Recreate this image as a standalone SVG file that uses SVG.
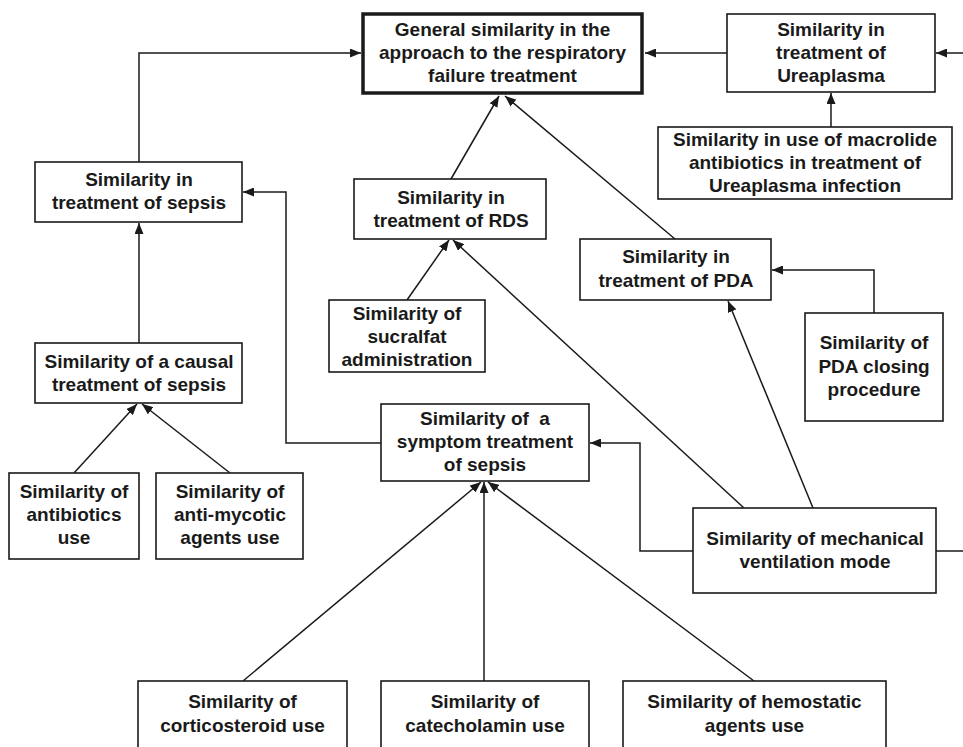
<svg xmlns="http://www.w3.org/2000/svg" width="963" height="747" viewBox="0 0 963 747">
<style>
.box{fill:#fff;stroke:#1a1a1a;stroke-width:1.6}
.main{fill:#fff;stroke:#1a1a1a;stroke-width:3.5}
text{font-family:"Liberation Sans",Arial,sans-serif;font-weight:bold;font-size:19px;fill:#1a1a1a;text-anchor:middle}
.c{fill:none;stroke:#1a1a1a;stroke-width:1.5}
.a{marker-end:url(#ah)}
</style>
<defs>
<marker id="ah" markerUnits="userSpaceOnUse" markerWidth="11" markerHeight="9" refX="11" refY="4.5" orient="auto">
<path d="M0,0 L11,4.5 L0,9 z" fill="#1a1a1a"/>
</marker>
</defs>
<rect width="963" height="747" fill="#fff"/>
<g id="connectors">
<polyline class="c a" points="139,162 139,53 361,53"/>
<polyline class="c a" points="727,53 645,53"/>
<polyline class="c a" points="963,53 936,53"/>
<polyline class="c a" points="831,127 831,93"/>
<polyline class="c a" points="451,179 499,96"/>
<polyline class="c a" points="675,239 505,96"/>
<polyline class="c a" points="139,343 139,223"/>
<polyline class="c a" points="381,443 286,443 286,192 243,192"/>
<polyline class="c a" points="407,300 449,240"/>
<polyline class="c a" points="744,508 453,240"/>
<polyline class="c a" points="874,313 874,270 772,270"/>
<polyline class="c a" points="813,508 728,301"/>
<polyline class="c a" points="74,473 137,404"/>
<polyline class="c a" points="230,473 142,404"/>
<polyline class="c a" points="693,551 640,551 640,443 590,443"/>
<polyline class="c" points="936,551 963,551"/>
<polyline class="c a" points="243,681 481,482"/>
<polyline class="c a" points="484,681 484,482"/>
<polyline class="c a" points="754,681 488,482"/>
</g>
<g id="general">
<rect class="main" x="363" y="14" width="279" height="79"/>
<text x="502.5" y="36">General similarity in the</text>
<text x="502.5" y="59">approach to the respiratory</text>
<text x="502.5" y="82">failure treatment</text>
</g>
<g id="ureaplasma">
<rect class="box" x="727" y="14" width="208" height="78"/>
<text x="831" y="36">Similarity in</text>
<text x="831" y="59">treatment of</text>
<text x="831" y="82">Ureaplasma</text>
</g>
<g id="macrolide">
<rect class="box" x="658" y="127" width="294" height="72"/>
<text x="805" y="146">Similarity in use of macrolide</text>
<text x="805" y="169">antibiotics in treatment of</text>
<text x="805" y="192">Ureaplasma infection</text>
</g>
<g id="sepsis">
<rect class="box" x="35" y="162" width="207" height="60"/>
<text x="139" y="186">Similarity in</text>
<text x="139" y="209">treatment of sepsis</text>
</g>
<g id="rds">
<rect class="box" x="354" y="179" width="192" height="60"/>
<text x="451" y="204">Similarity in</text>
<text x="451" y="227">treatment of RDS</text>
</g>
<g id="pda">
<rect class="box" x="580" y="239" width="191" height="61"/>
<text x="676" y="263">Similarity in</text>
<text x="676" y="287">treatment of PDA</text>
</g>
<g id="sucralfat">
<rect class="box" x="329" y="300" width="156" height="72"/>
<text x="407" y="320">Similarity of</text>
<text x="407" y="343">sucralfat</text>
<text x="407" y="366">administration</text>
</g>
<g id="pdaclosing">
<rect class="box" x="805" y="313" width="138" height="108"/>
<text x="874" y="349">Similarity of</text>
<text x="874" y="373">PDA closing</text>
<text x="874" y="396">procedure</text>
</g>
<g id="causal">
<rect class="box" x="35" y="343" width="207" height="60"/>
<text x="139" y="368">Similarity of a causal</text>
<text x="139" y="391">treatment of sepsis</text>
</g>
<g id="symptom">
<rect class="box" x="381" y="404" width="208" height="77"/>
<text x="485" y="425" xml:space="preserve">Similarity of  a</text>
<text x="485" y="448">symptom treatment</text>
<text x="485" y="471">of sepsis</text>
</g>
<g id="antibiotics">
<rect class="box" x="9" y="473" width="130" height="86"/>
<text x="74" y="498">Similarity of</text>
<text x="74" y="521">antibiotics</text>
<text x="74" y="544">use</text>
</g>
<g id="antimycotic">
<rect class="box" x="156" y="473" width="147" height="86"/>
<text x="230" y="498">Similarity of</text>
<text x="230" y="521">anti-mycotic</text>
<text x="230" y="544">agents use</text>
</g>
<g id="mechanical">
<rect class="box" x="693" y="508" width="243" height="85"/>
<text x="815" y="545">Similarity of mechanical</text>
<text x="815" y="568">ventilation mode</text>
</g>
<g id="corticosteroid">
<rect class="box" x="138" y="681" width="209" height="80"/>
<text x="242.5" y="708">Similarity of</text>
<text x="242.5" y="732">corticosteroid use</text>
</g>
<g id="catecholamin">
<rect class="box" x="381" y="681" width="208" height="80"/>
<text x="485" y="708">Similarity of</text>
<text x="485" y="732">catecholamin use</text>
</g>
<g id="hemostatic">
<rect class="box" x="623" y="681" width="263" height="80"/>
<text x="754.5" y="708">Similarity of hemostatic</text>
<text x="754.5" y="732">agents use</text>
</g>
</svg>
